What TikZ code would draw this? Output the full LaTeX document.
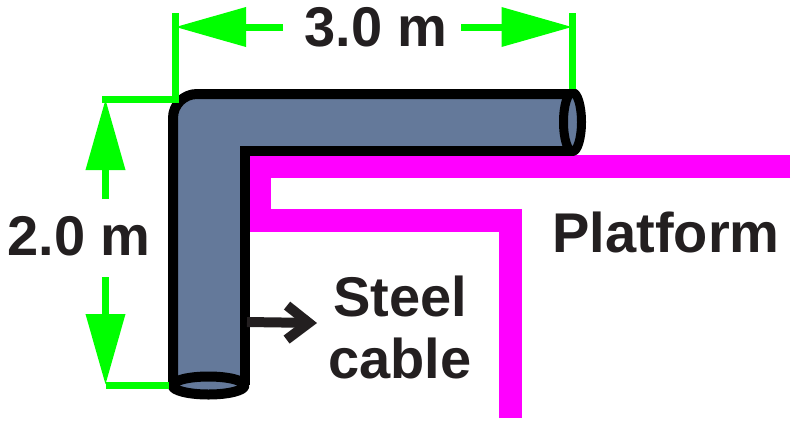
\documentclass[tikz,border=0pt]{standalone}
\usepackage{fontspec}
\setmainfont{Liberation Sans}
\usetikzlibrary{arrows.meta}
\definecolor{dimgreen}{HTML}{00FF00}
\definecolor{platcolor}{HTML}{FF00FF}
\definecolor{cablecolor}{HTML}{64799A}
\definecolor{inkcolor}{HTML}{231F20}
\begin{document}
\begin{tikzpicture}[x=1pt,y=-1pt]

      \tikzset{label text/.style={inner sep=0pt, text=inkcolor, font=\fontsize{56}{62}\selectfont\bfseries},
               dim line/.style={draw=dimgreen, line width=7pt},
               dim arrow/.style={dim line, -{Triangle[length=71pt, width=38pt, fill=dimgreen]}},
               cable line/.style={draw=black, line width=10pt, line join=round}}
      \useasboundingbox (0,0) rectangle (800,424);
%% Platform
      	\draw[draw=platcolor, line width=23pt] (790,166.5) -- (259.5,166.5) -- (259.5,220.5) -- (510.5,220.5) -- (510.5,418);
%% Cable
      	\fill[cablecolor] (173,385) [rounded corners=24pt] -- (173,94) [sharp corners] -- (572,94) -- (572,151) -- (244.5,151) -- (244.5,385) -- cycle;
      	\draw[cable line] (173,385) [rounded corners=24pt] -- (173,94) [sharp corners] -- (572,94);
      	\draw[cable line, line join=miter] (572,151) -- (244.5,151) -- (244.5,385);
      	\draw[cable line, line width=9pt, fill=cablecolor] (572.5,122) ellipse [x radius=9, y radius=29.5];
      	\draw[cable line, fill=cablecolor] (208.5,385.5) ellipse [x radius=36, y radius=9];
%% Coordinates
      	\coordinate (ctop) at (175,27);
      	\coordinate (rtop) at (572.5,27);
      	\coordinate (c0) at (175,13);
      	\coordinate (c1) at (175,99);
      	\coordinate (c2) at (105.5,99);
      	\coordinate (c3) at (572.5,13);
      	\coordinate (c4) at (572.5,89);
      	\coordinate (c5) at (105.5,385);
      	\coordinate (c6) at (169,385);
      	\coordinate (a0) at (283,27);
      	\coordinate (a1) at (461,27);
      	\coordinate (a2) at (105.5,199);
      	\coordinate (a3) at (105.5,277);
      	\coordinate (b0) at (247,322);
      	\coordinate (b1) at (317,323);
%% Labels
      	\node[label text, anchor=base] (top) at (376,46) {3.0 m};
      	\node[label text, anchor=base] (left) at (79,255) {2.0 m};
      	\node[label text, anchor=base] (plat) at (666,252) {Platform};
      	\node[label text, align=center] (steel) at (400,327) {Steel\\cable};
%Dimension lines
		\draw[dim line] (c0) -- (c1);
		\draw[dim line] (c3) -- (c4);
		\draw[dim line, line cap=rect] (c1) -- (c2);
		\draw[dim line] (c5) -- (c6);
		\draw[dim arrow] (a0) -- (ctop);
		\draw[dim arrow] (a1) -- (rtop);
		\draw[dim arrow] (a2) -- (c2);
		\draw[dim arrow] (a3) -- (c5);
%Pointer
		\draw[draw=inkcolor, line width=10pt, -{Straight Barb[length=22pt, width=34pt, line width=10pt, sharp]}] (b0) -- (b1);

	\end{tikzpicture}
\end{document}
